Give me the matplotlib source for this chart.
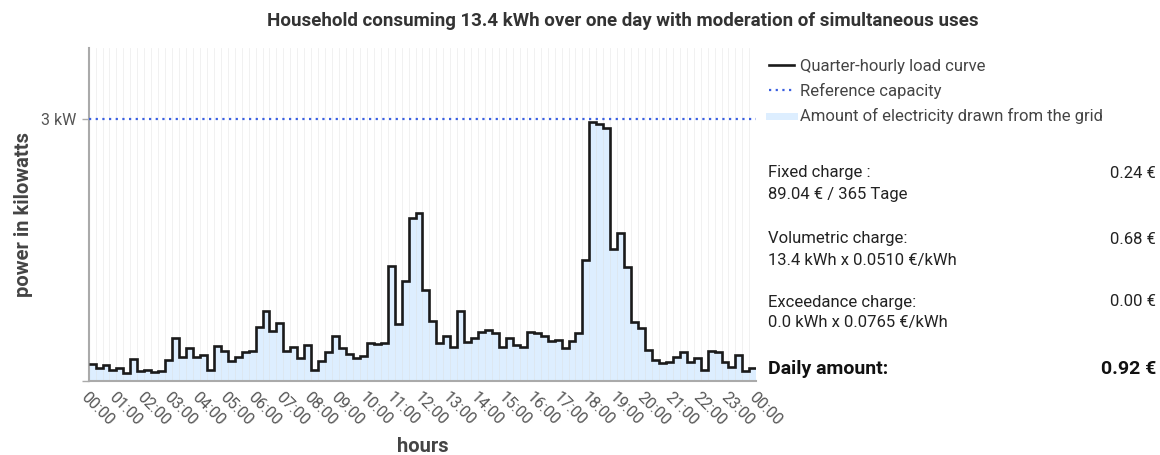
import numpy as np
import matplotlib.pyplot as plt
from matplotlib.lines import Line2D

plt.rcParams['font.family'] = ['Roboto', 'DejaVu Sans']

# load per quarter hour in kW (96 values, 00:00 -> 24:00)
quarter_hour_kw = [
    0.20, 0.15, 0.18, 0.13, 0.15, 0.09, 0.25, 0.12, 0.13, 0.10, 0.12, 0.24,
    0.49, 0.28, 0.38, 0.28, 0.30, 0.13, 0.40, 0.34, 0.23, 0.28, 0.33, 0.34,
    0.62, 0.80, 0.57, 0.66, 0.34, 0.39, 0.26, 0.41, 0.13, 0.23, 0.33, 0.51,
    0.38, 0.31, 0.26, 0.29, 0.43, 0.42, 0.44, 1.32, 0.65, 1.15, 1.87, 1.92,
    1.04, 0.69, 0.44, 0.52, 0.39, 0.80, 0.45, 0.49, 0.56, 0.58, 0.55, 0.39,
    0.49, 0.41, 0.39, 0.56, 0.55, 0.51, 0.46, 0.47, 0.38, 0.46, 0.55, 1.39,
    2.96, 2.94, 2.90, 1.51, 1.69, 1.30, 0.68, 0.61, 0.36, 0.24, 0.21, 0.22,
    0.28, 0.33, 0.22, 0.26, 0.13, 0.34, 0.33, 0.22, 0.16, 0.30, 0.11, 0.15,
]
reference_kw = 3.0
hour_labels = ['%02d:00' % (h % 24) for h in range(25)]

legend_labels = ['Quarter-hourly load curve', 'Reference capacity',
                 'Amount of electricity drawn from the grid']
charge_names = ['Fixed charge :', 'Volumetric charge:', 'Exceedance charge:']
charge_details = ['89.04 € / 365 Tage', '13.4 kWh x 0.0510 €/kWh', '0.0 kWh x 0.0765 €/kWh']
charge_values = ['0.24 €', '0.68 €', '0.00 €']
total_label = 'Daily amount:'
total_value = '0.92 €'

fill_col = '#ddeeff'
line_col = '#1a1a1a'
ref_col = '#3a5fe0'
grey = '#555555'

edges = np.arange(len(quarter_hour_kw) + 1) / 4.0

fig = plt.figure(figsize=(11.6, 4.55), dpi=100)
ax = fig.add_axes([0.0764, 0.1626, 0.5756, 0.7319])

# quarter-hour grid
for x in edges[1:-1]:
    ax.axvline(x, color='#dcdcdc', lw=0.6, alpha=0.45, zorder=2)

ax.stairs(quarter_hour_kw, edges, fill=True, color=fill_col, zorder=1)
ax.stairs(quarter_hour_kw, edges, baseline=None, color=line_col, lw=1.9, zorder=4)
ax.axhline(reference_kw, color=ref_col, lw=1.6, ls=(0, (1, 2)), zorder=5)

ax.set_xlim(0, 24)
ax.set_ylim(0, 3.81)
ax.set_xticks(range(25))
ax.set_xticklabels(hour_labels, rotation=-45, ha='left', va='top',
                   rotation_mode='anchor', fontsize=11.5, color=grey)
ax.tick_params(axis='x', length=0, pad=6)
ax.set_yticks([0, reference_kw])
ax.set_yticklabels(['', '3 kW'], fontsize=11.5, color=grey)
ax.tick_params(axis='y', length=5, color='#aaaaaa', width=1)

for s in ['top', 'right']:
    ax.spines[s].set_visible(False)
for s in ['left', 'bottom']:
    ax.spines[s].set_color('#aaaaaa')
    ax.spines[s].set_linewidth(1.5)

ax.set_xlabel('hours', fontsize=14.5, fontweight='bold', color='#444444', labelpad=6)
ax.set_ylabel('power in kilowatts', fontsize=14.5, fontweight='bold', color='#444444', labelpad=6)

fig.text(0.537, 0.954, 'Household consuming 13.4 kWh over one day with moderation of simultaneous uses',
         ha='center', va='center', fontsize=13.5, fontweight='bold', color='#333333')

handles = [Line2D([], [], color=line_col, lw=1.9),
           Line2D([], [], color=ref_col, lw=1.6, ls=(0, (1, 2))),
           Line2D([], [], color=fill_col, lw=5)]
fig.legend(handles, legend_labels, loc='upper left', bbox_to_anchor=(0.6575, 0.885),
           frameon=False, fontsize=12, handlelength=1.5, handletextpad=0.35,
           labelspacing=0.55, borderaxespad=0, labelcolor='#444444')

x_left = 768 / 1160
x_right = 1156 / 1160
ys = [173, 239, 302]
for name, detail, value, y in zip(charge_names, charge_details, charge_values, ys):
    fig.text(x_left, 1 - y / 455, name, ha='left', va='center', fontsize=12, color='#222222')
    fig.text(x_left, 1 - (y + 21) / 455, detail, ha='left', va='center', fontsize=12, color='#222222')
    fig.text(x_right, 1 - y / 455, value, ha='right', va='center', fontsize=12, color='#222222')
fig.text(x_left, 1 - 369 / 455, total_label, ha='left', va='center', fontsize=14, fontweight='bold', color='#111111')
fig.text(x_right, 1 - 369 / 455, total_value, ha='right', va='center', fontsize=14, fontweight='bold', color='#111111')

fig.savefig('out.png', dpi=100)
